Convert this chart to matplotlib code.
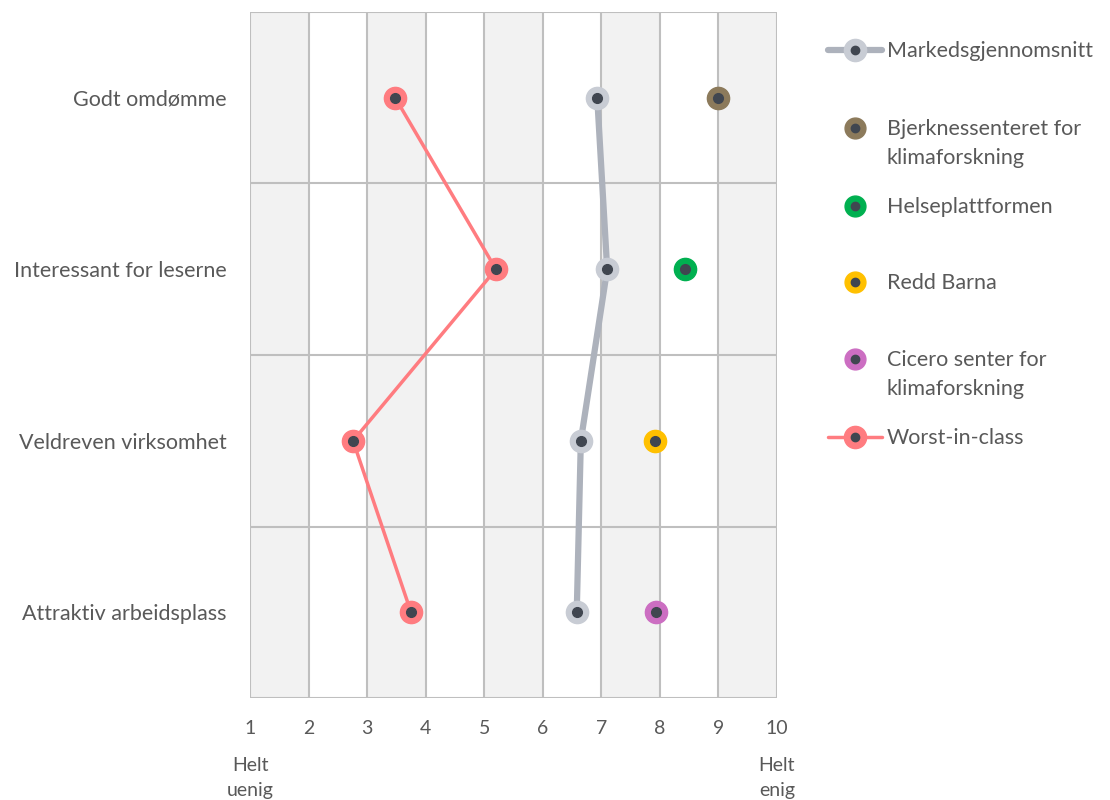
import matplotlib.pyplot as plt

plt.rcParams['font.family'] = ['Lato', 'DejaVu Sans']

# data
categories = ['Godt omdømme', 'Interessant for leserne', 'Veldreven virksomhet', 'Attraktiv arbeidsplass']
market_avg = [6.93, 7.10, 6.65, 6.58]
worst_in_class = [3.48, 5.20, 2.76, 3.75]
org_names = ['Bjerknessenteret for\nklimaforskning', 'Helseplattformen', 'Redd Barna',
             'Cicero senter for\nklimaforskning']
org_values = [8.99, 8.43, 7.92, 7.93]
org_colors = ['#8C7A5B', '#00B050', '#FFC000', '#CC6EC2']
xticks = list(range(1, 11))

text_col = '#595959'
grid_col = '#BFBFBF'
dot_col = '#404650'
market_line = '#ADB2BC'
market_marker = '#C8CCD4'
worst_col = '#FF7C80'

fig = plt.figure(figsize=(11.1, 8), dpi=100)
ax = fig.add_axes([250 / 1110, 102 / 800, 527 / 1110, 686 / 800])

ypos = list(range(len(categories)))

# alternating column shading
for i in range(1, 10):
    if i % 2 == 1:
        ax.axvspan(i, i + 1, color='#F2F2F2', zorder=0, lw=0)

for x in xticks:
    ax.axvline(x, color=grid_col, lw=1.5, zorder=1)
for y in [-0.5, 0.5, 1.5, 2.5, 3.5]:
    ax.axhline(y, color=grid_col, lw=1.5, zorder=1)

ax.plot(market_avg, ypos, color=market_line, lw=4.5, zorder=2, solid_capstyle='round')
ax.plot(market_avg, ypos, ls='none', marker='o', ms=16, mfc=market_marker, mec=market_marker, zorder=3)
ax.plot(market_avg, ypos, ls='none', marker='o', ms=7, mfc=dot_col, mec=dot_col, zorder=4)

ax.plot(worst_in_class, ypos, color=worst_col, lw=2.5, zorder=2)
ax.plot(worst_in_class, ypos, ls='none', marker='o', ms=16, mfc=worst_col, mec=worst_col, zorder=3)
ax.plot(worst_in_class, ypos, ls='none', marker='o', ms=7, mfc=dot_col, mec=dot_col, zorder=4)

for i, (v, c) in enumerate(zip(org_values, org_colors)):
    ax.plot([v], [i], ls='none', marker='o', ms=16, mfc=c, mec=c, zorder=3)
    ax.plot([v], [i], ls='none', marker='o', ms=7, mfc=dot_col, mec=dot_col, zorder=4)

ax.set_xlim(1, 10)
ax.set_ylim(3.5, -0.5)
ax.set_xticks(xticks)
ax.set_xticklabels([str(x) for x in xticks], fontsize=14, color=text_col)
ax.set_yticks(ypos)
ax.set_yticklabels(categories, fontsize=15.5, color=text_col)
ax.tick_params(length=0)
ax.tick_params(axis='x', pad=16)
ax.tick_params(axis='y', pad=17)
for s in ax.spines.values():
    s.set_visible(False)

ax.text(1, -0.117, 'Helt\nuenig', transform=ax.get_xaxis_transform(), ha='center', va='center',
        fontsize=14, color=text_col, linespacing=1.55)
ax.text(10, -0.117, 'Helt\nenig', transform=ax.get_xaxis_transform(), ha='center', va='center',
        fontsize=14, color=text_col, linespacing=1.55)

# legend drawn by hand to mimic the layout
lax = fig.add_axes([0, 0, 1, 1], facecolor='none')
lax.set_xlim(0, 1110)
lax.set_ylim(800, 0)
lax.axis('off')

leg_names = ['Markedsgjennomsnitt'] + org_names + ['Worst-in-class']
leg_y = [50, 128, 206, 282, 359, 437]
leg_fill = [market_marker] + org_colors + [worst_col]
leg_line = [market_line, None, None, None, None, worst_col]
leg_lw = [4.5, 0, 0, 0, 0, 2.5]
for name, y, fc, lc, lw in zip(leg_names, leg_y, leg_fill, leg_line, leg_lw):
    if lc is not None:
        lax.plot([828, 882], [y, y], color=lc, lw=lw, solid_capstyle='round')
    lax.plot([855], [y], marker='o', ms=16 if lc else 15, mfc=fc, mec=fc, ls='none')
    lax.plot([855], [y], marker='o', ms=6, mfc=dot_col, mec=dot_col, ls='none')
    for k, line in enumerate(name.split('\n')):
        lax.text(887, y + 7 + k * 29, line, ha='left', va='baseline', fontsize=15.5,
                 color=text_col)

fig.savefig('out.png', dpi=100)
